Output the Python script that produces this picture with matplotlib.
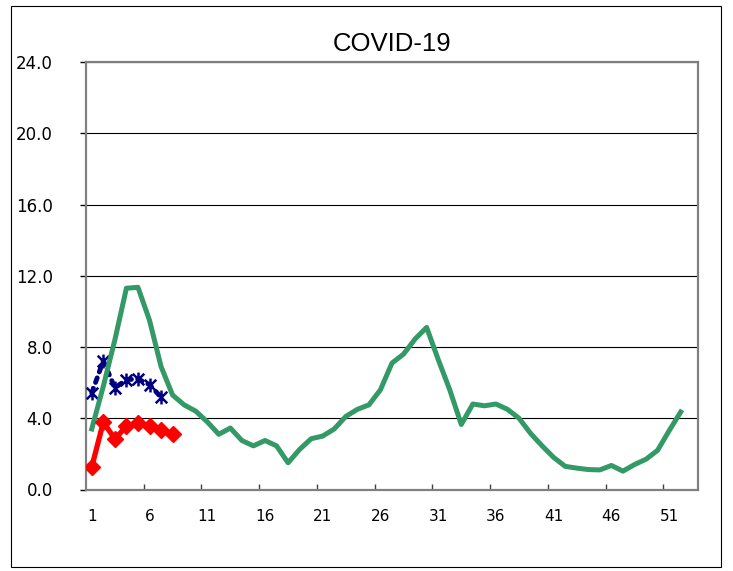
import numpy as np
import matplotlib
matplotlib.use("Agg")
import matplotlib.pyplot as plt
from matplotlib.path import Path
from matplotlib.patches import Rectangle

# datos por semana
weeks = list(range(1, 53))
covid = [3.4, 5.8, 8.4, 11.3, 11.35, 9.5, 6.9, 5.3, 4.75, 4.4,
         3.8, 3.1, 3.45, 2.75, 2.45, 2.75, 2.45, 1.5, 2.25, 2.85,
         3.0, 3.4, 4.1, 4.5, 4.75, 5.6, 7.1, 7.6, 8.45, 9.1,
         7.3, 5.6, 3.65, 4.8, 4.7, 4.8, 4.5, 4.0, 3.15, 2.45,
         1.8, 1.3, 1.2, 1.12, 1.1, 1.35, 1.03, 1.4, 1.7, 2.2,
         3.3, 4.35]

red_weeks = [1, 2, 3, 4, 5, 6, 7, 8]
red_vals = [1.27, 3.78, 2.84, 3.55, 3.74, 3.59, 3.33, 3.14]

blue_weeks = [1, 2, 3, 4, 5, 6, 7]
blue_vals = [5.42, 7.23, 5.7, 6.17, 6.2, 5.89, 5.18]

yticks = [0, 4, 8, 12, 16, 20, 24]
xlabels = [1, 6, 11, 16, 21, 26, 31, 36, 41, 46, 51]

# marcador estrella tipo Excel (x con barra vertical)
star = Path([(-1, -1), (1, 1), (-1, 1), (1, -1), (0, -1.2), (0, 1.2)],
            [Path.MOVETO, Path.LINETO, Path.MOVETO, Path.LINETO, Path.MOVETO, Path.LINETO])

fig = plt.figure(figsize=(7.33, 5.71), dpi=100)
ax = fig.add_axes([86 / 733, 1 - 489.5 / 571, 612 / 733, 427.5 / 571])

ax.plot(blue_weeks, blue_vals, color="#000080", lw=3.5, linestyle=(0, (1, 1.3)),
        dash_capstyle="round", marker=star, ms=10, mew=1.8, mfc="none", zorder=3)
ax.plot(weeks, covid, color="#339966", lw=3.6, solid_joinstyle="round", zorder=4)
ax.plot(red_weeks, red_vals, color="#ff0000", lw=3.8, marker="D", ms=8, zorder=5)

ax.set_xlim(0.5, 53.5)
ax.set_ylim(0, 24)
ax.set_yticks(yticks)
ax.set_yticklabels([f"{v:.1f}" for v in yticks])
ax.yaxis.grid(True, color="black", lw=0.8)
ax.set_axisbelow(True)

ax.set_xticks(np.arange(5.5, 51, 5))
ax.set_xticklabels([])
ax.set_xticks(xlabels, minor=True)
ax.set_xticklabels([str(v) for v in xlabels], minor=True)
ax.tick_params(axis="x", which="major", direction="in", length=4, width=1, color="#404040")
ax.tick_params(axis="x", which="minor", length=0, pad=14, labelsize=11)
ax.tick_params(axis="y", direction="out", length=4, width=1, pad=20, labelsize=12)

for s in ax.spines.values():
    s.set_color("#808080")
    s.set_linewidth(1.6)

ax.set_title("COVID-19", fontsize=18.5, family="Liberation Sans", pad=8)

fig.patches.append(Rectangle((11 / 733, 1 - 567 / 571), 710 / 733, 561 / 571,
                             transform=fig.transFigure, fill=False,
                             edgecolor="black", lw=0.8))

fig.savefig("out.png", dpi=100)
